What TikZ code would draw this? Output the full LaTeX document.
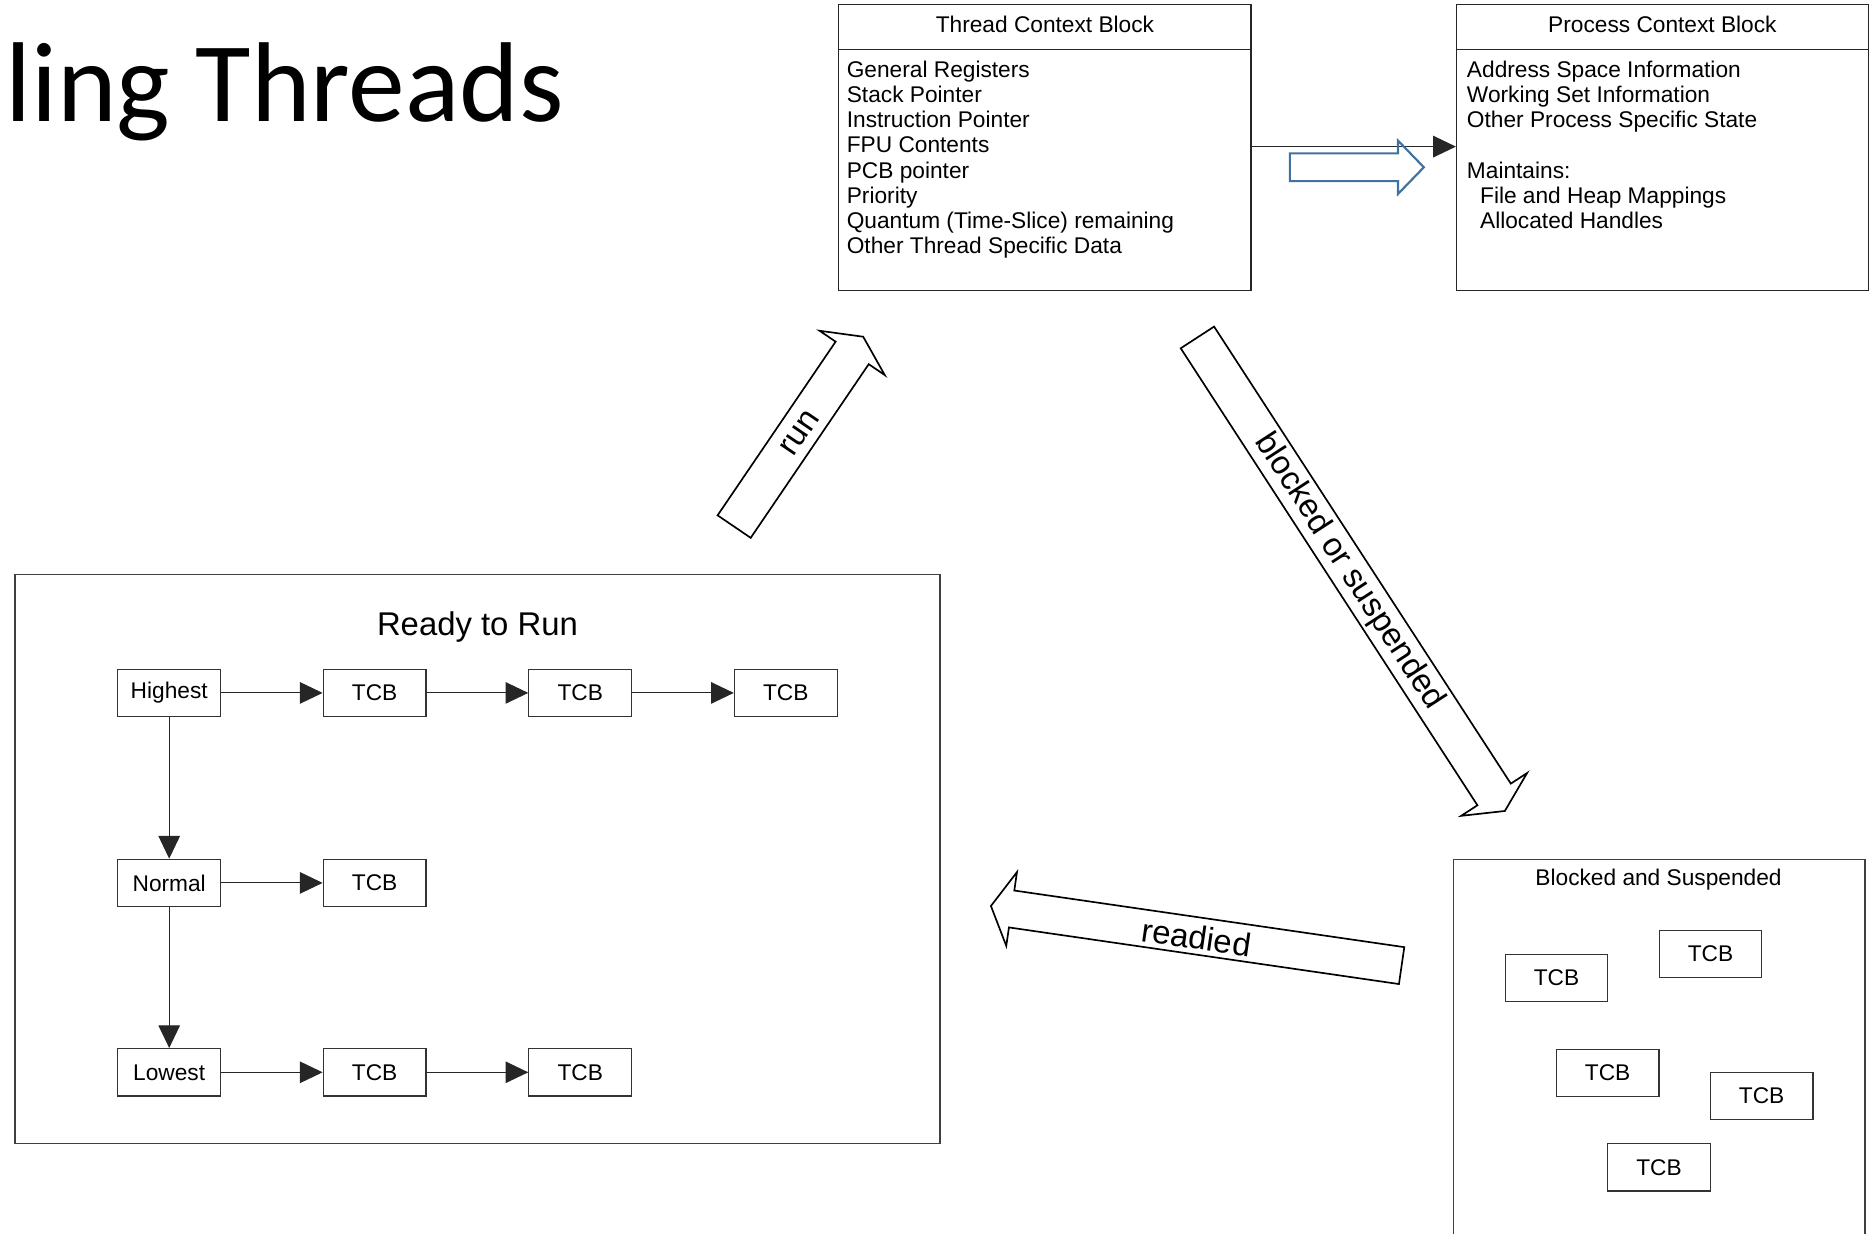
\documentclass[tikz,border=0pt]{standalone}
\usepackage{fontspec}
\setmainfont{Liberation Sans}
\newfontfamily\titlefont{Carlito}
\usetikzlibrary{arrows.meta,calc}
\definecolor{arrowblue}{RGB}{65,113,156}
\newcommand{\blkarrow}[6]{%
  \coordinate (#1T) at #2;
  \coordinate (#1P) at #3;
  \coordinate (#1B) at ($(#1P)!#6!(#1T)$);
  \draw[blockarr] ($(#1T)!#4!90:(#1P)$) -- ($(#1B)!#4!90:(#1P)$) -- ($(#1B)!#5!90:(#1P)$) -- (#1P) -- ($(#1B)!#5!-90:(#1P)$) -- ($(#1B)!#4!-90:(#1P)$) -- ($(#1T)!#4!-90:(#1P)$) -- cycle;
}
\begin{document}
\begin{tikzpicture}[x=1pt,y=1pt,
  boxtxt/.style={font=\fontsize{19}{21}\selectfont, inner sep=0pt},
  lbltxt/.style={font=\fontsize{27.5}{30}\selectfont, inner sep=0pt},
  smallbox/.style={draw=black!80, line width=1pt, minimum width=86pt, minimum height=39.6pt, inner sep=0pt, font=\fontsize{19}{21}\selectfont},
  bigbox/.style={draw=black!85, line width=1.1pt, inner sep=0pt},
  conn/.style={draw=black!85, line width=0.9pt, -{Triangle[length=19pt,width=18pt]}},
  blockarr/.style={draw=black, line width=1.4pt, fill=white, line join=miter},
]
\useasboundingbox (0,0) rectangle (1565,-1032.7);

% title
\node[anchor=base west, inner sep=0pt, font=\titlefont\fontsize{95}{100}\selectfont] (title) at (4,-102) {ling Threads};

% Thread Context Block
\node[bigbox, minimum width=345pt, minimum height=239pt] (tcb) at (874.5,-123.5) {};
\coordinate (tcbh) at ($(tcb.north west)+(0,-38)$);
\draw[draw=black!85, line width=1.1pt] (tcbh) -- (tcbh -| tcb.east);
\node[boxtxt, anchor=base] (tcbtitle) at (874.5,-27) {Thread Context Block};
\foreach \t [count=\i] in {{General Registers}, {Stack Pointer}, {Instruction Pointer}, {FPU Contents}, {PCB pointer}, {Priority}, {Quantum (Time-Slice) remaining}, {Other Thread Specific Data}}
  \node[boxtxt, anchor=base west] (tcbl\i) at (708.5,{-64.7-21.1*(\i-1)}) {\t};

% Process Context Block
\node[bigbox, minimum width=344.5pt, minimum height=239pt] (pcb) at (1391.25,-123.5) {};
\coordinate (pcbh) at ($(pcb.north west)+(0,-38)$);
\draw[draw=black!85, line width=1.1pt] (pcbh) -- (pcbh -| pcb.east);
\node[boxtxt, anchor=base] (pcbtitle) at (1391.25,-27) {Process Context Block};
\node[boxtxt, anchor=base west] (pcbl1) at (1227.5,-64.7) {Address Space Information};
\node[boxtxt, anchor=base west] (pcbl2) at (1227.5,-85.8) {Working Set Information};
\node[boxtxt, anchor=base west] (pcbl3) at (1227.5,-106.9) {Other Process Specific State};
\node[boxtxt, anchor=base west] (pcbl4) at (1227.5,-149.1) {Maintains:};
\node[boxtxt, anchor=base west] (pcbl5) at (1238.5,-170.2) {File and Heap Mappings};
\node[boxtxt, anchor=base west] (pcbl6) at (1238.5,-191.3) {Allocated Handles};

\coordinate (lvl) at (0,-122.7);
\draw[conn] (tcb.east |- lvl) -- (pcb.west |- lvl);

% blue hollow arrow
\draw[draw=arrowblue, line width=1.8pt, line join=miter] (1079.5,-128.4) -- (1170,-128.4) -- (1170,-117.7) -- (1191.6,-140) -- (1170,-162.3) -- (1170,-151.6) -- (1079.5,-151.6) -- cycle;

% Ready to Run
\node[bigbox, draw=black!75, minimum width=774pt, minimum height=476.2pt] (ready) at (399.6,-718.7) {};
\node[lbltxt, anchor=base] (readytitle) at (399.6,-531.5) {Ready to Run};

\node[smallbox] (hi) at (141.6,-579.9) {Highest};
\node[smallbox] (h1) at (313.5,-579.9) {TCB};
\node[smallbox] (h2) at (485.6,-579.9) {TCB};
\node[smallbox] (h3) at (657.6,-579.9) {TCB};
\node[smallbox] (no) at (141.6,-738.9) {Normal};
\node[smallbox] (n1) at (313.5,-738.9) {TCB};
\node[smallbox] (lo) at (141.6,-897.4) {Lowest};
\node[smallbox] (l1) at (313.5,-897.4) {TCB};
\node[smallbox] (l2) at (485.6,-897.4) {TCB};

\draw[conn] (hi) -- (h1);
\draw[conn] (h1) -- (h2);
\draw[conn] (h2) -- (h3);
\draw[conn] (no) -- (n1);
\draw[conn] (lo) -- (l1);
\draw[conn] (l1) -- (l2);
\draw[conn] (hi) -- (no);
\draw[conn] (no) -- (lo);

% Blocked and Suspended
\draw[draw=black!75, line width=1.1pt] (1216.2,-1040) |- (1560.7,-719.1) -- (1560.7,-1040);
\node[boxtxt, anchor=base] (bstitle) at (1388,-741.2) {Blocked and Suspended};
\node[smallbox] (b1) at (1302.6,-818.3) {TCB};
\node[smallbox] (b2) at (1431.5,-798.3) {TCB};
\node[smallbox] (b3) at (1345.4,-897.8) {TCB};
\node[smallbox] (b4) at (1474.3,-917.3) {TCB};
\node[smallbox] (b5) at (1388.4,-977.0) {TCB};

% big block arrows
\blkarrow{run}{(614.4,-440.7)}{(722.4,-281.8)}{16.75pt}{33pt}{16.4pt}
\blkarrow{blk}{(1002.1,-282.4)}{(1259.4,-678.7)}{16.65pt}{32.9pt}{16.5pt}
\blkarrow{rdy}{(1173,-808.1)}{(829.3,-758.2)}{15.6pt}{31.2pt}{17.5pt}

\node[lbltxt, rotate=55.8] (runlbl) at (669.5,-362.5) {run};
\node[lbltxt, rotate=-57] (blklbl) at (1128.9,-478.4) {blocked or suspended};
\node[lbltxt, rotate=-8.26] (rdylbl) at (1001.4,-784.5) {readied};
\end{tikzpicture}
\end{document}
